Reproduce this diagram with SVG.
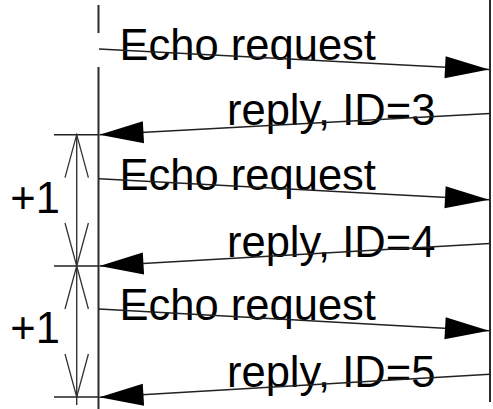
<svg xmlns="http://www.w3.org/2000/svg" width="493" height="409" viewBox="0 0 493 409">
  <style>
    .lifeline { stroke: #2a2a2a; stroke-width: 2; fill: none; }
    .msg { stroke: #222; stroke-width: 1.4; fill: none; marker-end: url(#head); }
    .tick { stroke: #222; stroke-width: 1.6; fill: none; }
    .dim { stroke: #333; stroke-width: 1.4; fill: none; }
    .dim2 { marker-start: url(#open); marker-end: url(#open); }
    .label { font-family: "Liberation Sans", Arial, sans-serif; font-size: 43.5px; fill: #000; }
  </style>
  <defs>
    <!-- solid message arrowhead -->
    <marker id="head" markerUnits="userSpaceOnUse" markerWidth="44" markerHeight="22" refX="44" refY="11" orient="auto" overflow="visible">
      <path d="M0,0 L44,11 L0,22 z" fill="#000"/>
    </marker>
    <!-- open dimension arrowhead -->
    <marker id="open" markerUnits="userSpaceOnUse" markerWidth="44" markerHeight="24" refX="43" refY="11.7" orient="auto-start-reverse" overflow="visible">
      <path d="M0,0 L43,11.7 L0,23.4" fill="none" stroke="#333" stroke-width="1.3"/>
    </marker>
  </defs>

  <!-- lifelines -->
  <g id="host-a">
    <line class="lifeline" x1="98.5" y1="5" x2="98.5" y2="33"/>
    <line class="lifeline" x1="98.5" y1="67" x2="98.5" y2="409"/>
  </g>
  <g id="host-b">
    <line class="lifeline" x1="490" y1="0" x2="490" y2="402"/>
  </g>

  <!-- interval marks and dimension lines -->
  <g id="interval-1">
    <line class="tick" x1="54" y1="134.7" x2="98.5" y2="134.7"/>
    <line class="dim dim2" x1="76.7" y1="134.7" x2="76.7" y2="266"/>
    <text class="label" x="10.3" y="213">+1</text>
  </g>
  <g id="interval-2">
    <line class="tick" x1="54" y1="266" x2="98.5" y2="266"/>
    <line class="dim dim2" x1="76.7" y1="266" x2="76.7" y2="397"/>
    <text class="label" x="10.3" y="343">+1</text>
  </g>
  <g id="interval-end">
    <line class="tick" x1="54" y1="397" x2="98.5" y2="397"/>
    <line class="dim" x1="76.7" y1="397" x2="76.7" y2="405"/>
  </g>

  <!-- message labels -->
  <g id="req-1"><text class="label" x="119.6" y="60">Echo request</text></g>
  <g id="rep-3"><text class="label" x="227" y="125">reply, ID=3</text></g>
  <g id="req-2"><text class="label" x="119.6" y="190">Echo request</text></g>
  <g id="rep-4"><text class="label" x="227" y="256.5">reply, ID=4</text></g>
  <g id="req-3"><text class="label" x="119.6" y="320">Echo request</text></g>
  <g id="rep-5"><text class="label" x="227" y="387">reply, ID=5</text></g>

  <!-- message connectors -->
  <g id="connectors">
    <line class="msg" x1="99" y1="49" x2="489" y2="69.5"/>
    <line class="msg" x1="490" y1="113.5" x2="99.5" y2="134.7"/>
    <line class="msg" x1="99" y1="178.7" x2="489" y2="199.7"/>
    <line class="msg" x1="490" y1="243.5" x2="99.5" y2="266"/>
    <line class="msg" x1="99" y1="309" x2="489" y2="330.7"/>
    <line class="msg" x1="490" y1="374.3" x2="99.5" y2="397.3"/>
  </g>
</svg>
